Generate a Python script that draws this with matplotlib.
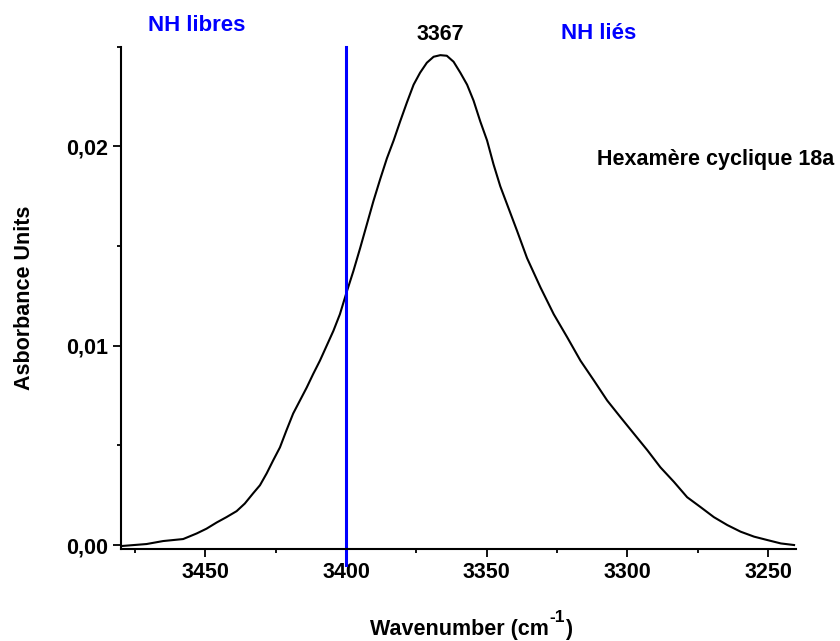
import numpy as np
import matplotlib
matplotlib.use('Agg')
import matplotlib.pyplot as plt
from matplotlib.ticker import MultipleLocator, FuncFormatter

plt.rcParams['font.family'] = ['Liberation Sans', 'DejaVu Sans']
plt.rcParams['font.weight'] = 'bold'

# IR spectrum (wavenumber cm-1, absorbance)
wavenumber = [3479.8, 3470.9, 3465.0, 3457.9, 3453.1, 3449.6, 3446.0, 3442.5,
              3438.9, 3436.0, 3433.0, 3430.6, 3428.2, 3425.9, 3423.5, 3421.2,
              3418.8, 3416.4, 3414.0, 3411.7, 3409.3, 3406.9, 3404.5, 3402.2,
              3400.0, 3397.4, 3395.0, 3392.6, 3390.3, 3387.9, 3385.5, 3383.1,
              3380.8, 3378.4, 3376.0, 3373.7, 3371.3, 3368.9, 3366.5, 3364.2,
              3361.8, 3359.4, 3357.0, 3354.7, 3352.3, 3349.9, 3347.6, 3345.2,
              3342.8, 3339.2, 3335.7, 3330.9, 3326.2, 3321.4, 3316.7, 3311.9,
              3307.2, 3302.4, 3297.8, 3292.9, 3288.3, 3283.5, 3278.8, 3274.0,
              3269.3, 3264.5, 3259.8, 3255.0, 3250.3, 3245.5, 3240.8]
absorbance = [-0.00005, 0.00005, 0.0002, 0.0003, 0.00058, 0.00082, 0.00113, 0.0014,
              0.0017, 0.00208, 0.0026, 0.003, 0.0036, 0.00425, 0.0049, 0.00575,
              0.0066, 0.00725, 0.0079, 0.00858, 0.00925, 0.01, 0.01075, 0.01158,
              0.0126, 0.01375, 0.0149, 0.0161, 0.01725, 0.01835, 0.0194, 0.0203,
              0.02125, 0.0222, 0.0231, 0.0237, 0.0242, 0.0245, 0.02458, 0.02455,
              0.02425, 0.0237, 0.0231, 0.0223, 0.02125, 0.0203, 0.0191, 0.018,
              0.0171, 0.01575, 0.0144, 0.01292, 0.01158, 0.01042, 0.00925, 0.00825,
              0.00725, 0.0064, 0.0056, 0.00475, 0.0039, 0.00317, 0.0024, 0.0019,
              0.0014, 0.001, 0.00067, 0.00042, 0.00025, 0.00008, 0.0]

separator = 3400
peak_label = '3367'
peak_pos = 3366.5

fig = plt.figure(figsize=(8.4, 6.41), dpi=100)
ax = fig.add_axes([0.144, 0.1435, 0.804, 0.7835])

ax.plot(wavenumber, absorbance, color='black', lw=1.5)
ax.plot([separator, separator], [-0.001, 0.025], color='#0000ff', lw=2.2, clip_on=False)

ax.set_xlim(3480, 3240)
ax.set_ylim(-0.0002, 0.025)

for s in ['top', 'right']:
    ax.spines[s].set_visible(False)
for s in ['left', 'bottom']:
    ax.spines[s].set_linewidth(1.5)

ax.xaxis.set_major_locator(MultipleLocator(50))
ax.xaxis.set_minor_locator(MultipleLocator(25))
ax.yaxis.set_major_locator(MultipleLocator(0.01))
ax.yaxis.set_minor_locator(MultipleLocator(0.005))
ax.yaxis.set_major_formatter(FuncFormatter(lambda v, p: '{0:.2f}'.format(v).replace('.', ',')))
ax.tick_params(which='major', length=6, width=1.3, labelsize=15.5, direction='out')
ax.tick_params(which='minor', length=2.6, width=1.3, direction='out')
for lab in ax.get_xticklabels() + ax.get_yticklabels():
    lab.set_fontweight('bold')

# x label built from pieces so the superscript looks like the original
W, H = 840.0, 641.0
base_y = 6 / H
pieces = [('Wavenumber (cm', 15.5, 0), ('-1', 12.5, 13), (')', 15.5, 0)]
texts = [fig.text(0, base_y + dy / H, s, fontsize=fs, fontweight='bold', va='baseline')
         for s, fs, dy in pieces]
fig.canvas.draw()
r = fig.canvas.get_renderer()
widths = [t.get_window_extent(r).width for t in texts]
x = 471 - sum(widths) / 2
for t, w in zip(texts, widths):
    t.set_x(x / W)
    x += w

ax.set_ylabel('Asborbance Units', fontsize=15.5, fontweight='bold', labelpad=22)

ax.text(3453, 0.02605, 'NH libres', color='#0000ff', fontsize=16, fontweight='bold',
        ha='center', va='center', clip_on=False)
ax.text(3310.3, 0.02565, 'NH liés', color='#0000ff', fontsize=16, fontweight='bold',
        ha='center', va='center', clip_on=False)
ax.text(peak_pos, 0.0256, peak_label, color='black', fontsize=15.5, fontweight='bold',
        ha='center', va='center', clip_on=False)
ax.text(3268.7, 0.01935, 'Hexamère cyclique 18a', color='black', fontsize=15.5,
        fontweight='bold', ha='center', va='center', clip_on=False)

fig.savefig('out.png', dpi=100)
